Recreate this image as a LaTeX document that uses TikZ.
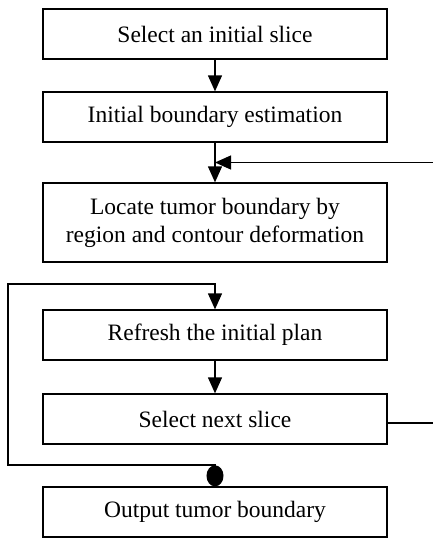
\documentclass[tikz,border=0pt]{standalone}
\usepackage{fontspec}
\setmainfont{Liberation Serif}
\usetikzlibrary{arrows.meta,calc}
\begin{document}
\begin{tikzpicture}[x=1pt,y=-1pt,
    box/.style={draw, line width=1.3pt, minimum width=344pt, minimum height=50pt, inner sep=0pt, align=center, font=\fontsize{23.5}{28}\selectfont},
    flow/.style={line width=1.3pt, -{Triangle[length=16pt,width=14pt]}}]
  \useasboundingbox (0,0) rectangle (432,538);
  \node[box] (b1) at (215,34) {Select an initial slice};
  \node[box] (b2) at (215,117) {Initial boundary estimation};
  \node[box, minimum height=79pt] (b3) at (215,222.5) {Locate tumor boundary by\\region and contour deformation};
  \node[box] (b4) at (215,335) {Refresh the initial plan};
  \node[box] (b5) at (215,419) {Select next slice};
  \node[box] (b6) at (215,512) {Output tumor boundary};
  \coordinate (fb) at ($(b2.south)!0.5!(b3.north)$);
  \coordinate (fbr) at (440,162.5);
  \coordinate (lpb) at (8,465);
  \coordinate (lpt) at (8,284);
  \draw[flow] (b1) -- (b2);
  \draw[flow] (b2) -- (b3);
  \draw[flow] (b4) -- (b5);
  \draw[flow] ([yshift=-4pt]b5.east) -| (fbr) -- (fb);
  \draw[flow, {Circle[length=21pt,width=17pt]}-{Triangle[length=16pt,width=14pt]}] (b6.north) |- (lpb) -- (lpt) -| (b4.north);
\end{tikzpicture}
\end{document}
